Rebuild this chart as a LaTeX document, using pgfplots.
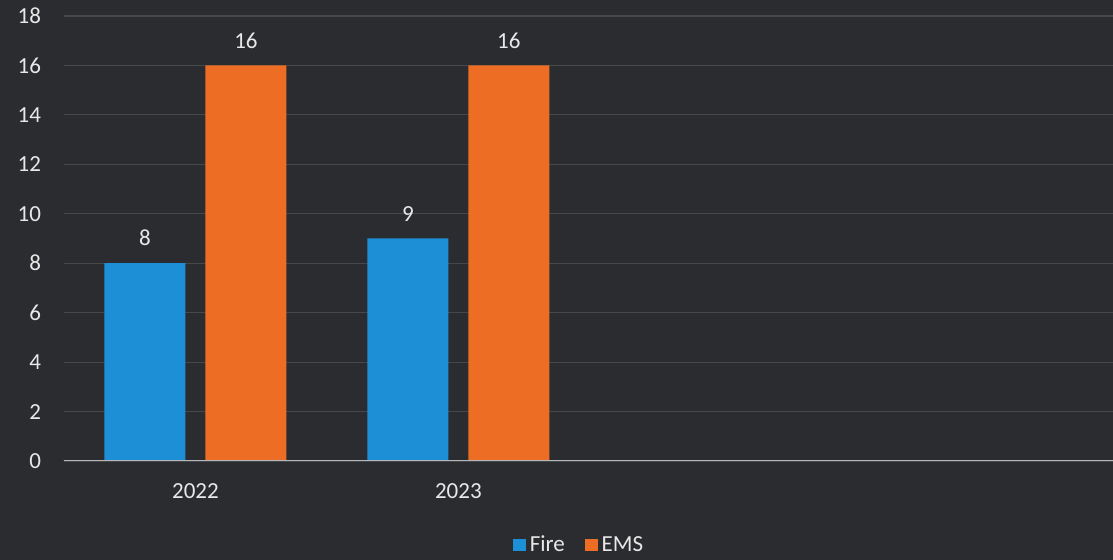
\documentclass[border=0pt]{standalone}
\usepackage{pgfplots}
\pgfplotsset{compat=1.18}
\usepackage{fontspec}
\setmainfont{Carlito}
\definecolor{bgc}{HTML}{2B2C30}
\definecolor{gridc}{HTML}{46484C}
\definecolor{firec}{HTML}{1C8FD6}
\definecolor{emsc}{HTML}{EE6D24}
\definecolor{txtc}{HTML}{E8E8E8}
\definecolor{basec}{HTML}{B4B6BA}
\begin{document}
\begin{tikzpicture}
\fill[bgc] (0,0) rectangle (556.5pt,280pt);
\useasboundingbox (0,0) rectangle (556.5pt,280pt);
\begin{axis}[
  at={(32pt,49.5pt)}, anchor=south west,
  scale only axis, width=524.5pt, height=222.5pt,
  xmin=-0.5, xmax=3.49, ymin=0, ymax=18,
  ytick={0,2,...,18}, xtick={0,1}, xticklabels={2022,2023},
  axis x line*=bottom, axis y line*=left,
  x axis line style={draw=none}, y axis line style={draw=none},
  major tick length=0pt,
  ymajorgrids, grid style={color=gridc, line width=0.6pt},
  /pgf/number format/assume math mode=true,
  tick label style={font=\fontsize{11.5}{13}\selectfont, text=txtc},
  yticklabel style={xshift=-8pt},
  xticklabel style={yshift=-8pt},
  ybar=10pt, bar width=40.5pt,
  nodes near coords,
  every node near coord/.append style={font=\fontsize{11.5}{13}\selectfont, text=txtc, yshift=5pt},
  legend style={at={(0.492,-0.189)}, anchor=center, draw=none, fill=none,
    font=\fontsize{11.5}{13}\selectfont, text=txtc, legend columns=2,
    /tikz/every even column/.append style={column sep=8pt}},
  legend image code/.code={\fill[#1] (0pt,-3.2pt) rectangle (6.4pt,3.2pt);},
]
\addplot[fill=firec, draw=none] coordinates {(0,8) (1,9)};
\addplot[fill=emsc, draw=none] coordinates {(0,16) (1,16)};
\legend{Fire, EMS}
\draw[basec, line width=1.2pt] (axis cs:-0.53,0) -- (axis cs:3.49,0);
\end{axis}
\end{tikzpicture}
\end{document}
